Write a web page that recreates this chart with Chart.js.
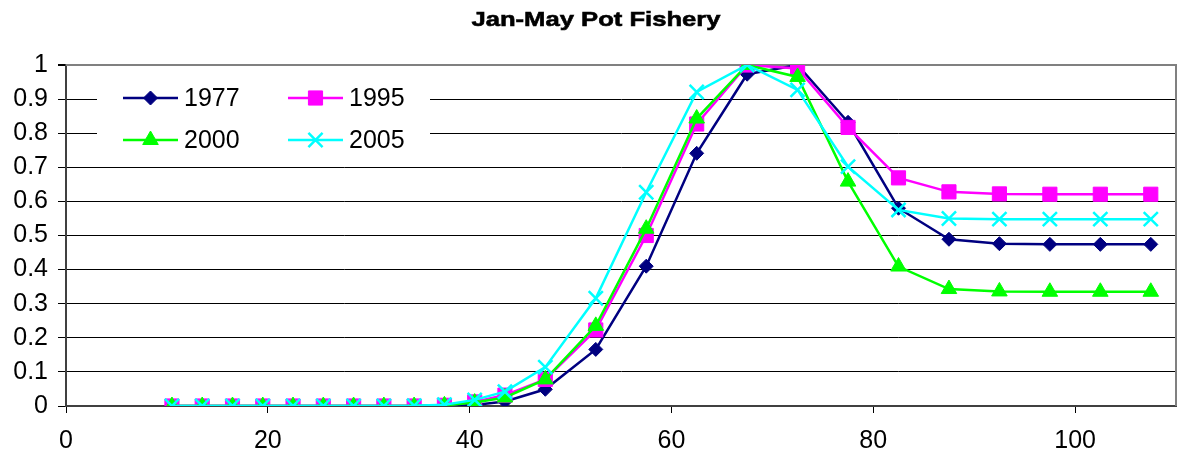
<!DOCTYPE html>
<html>
<head>
<meta charset="utf-8">
<title>Jan-May Pot Fishery</title>
<script src="https://cdn.jsdelivr.net/npm/chart.js"></script>
<style>
  html, body { margin: 0; padding: 0; background: #ffffff; overflow: hidden; }
  #wrap { position: relative; width: 1180px; height: 458px; }
  #chart { display: block; }
</style>
</head>
<body>
<div id="wrap"><canvas id="chart"></canvas></div>
<script>
// Selectivity at length, Jan-May pot fishery
const chartTitle = 'Jan-May Pot Fishery';
const lengths = [10.5, 13.5, 16.5, 19.5, 22.5, 25.5, 28.5, 31.5, 34.5, 37.5, 40.5, 43.5,
                 47.5, 52.5, 57.5, 62.5, 67.5, 72.5, 77.5, 82.5, 87.5, 92.5, 97.5, 102.5, 107.5];
const seriesNames = ['1977', '1995', '2000', '2005'];
const sel1977 = [0, 0, 0, 0, 0, 0, 0, 0, 0, 0.001, 0.003, 0.013,
                 0.049, 0.166, 0.41, 0.741, 0.973, 1.0, 0.832, 0.58, 0.489, 0.476, 0.474, 0.474, 0.474];
const sel1995 = [0, 0, 0, 0, 0, 0, 0, 0, 0, 0.002, 0.012, 0.032,
                 0.078, 0.223, 0.5, 0.827, 1.0, 0.99, 0.817, 0.669, 0.628, 0.622, 0.621, 0.621, 0.621];
const sel2000 = [0, 0, 0, 0, 0, 0, 0, 0, 0, 0.002, 0.01, 0.025,
                 0.078, 0.235, 0.52, 0.843, 1.0, 0.965, 0.658, 0.409, 0.343, 0.336, 0.335, 0.335, 0.335];
const sel2005 = [0, 0, 0, 0, 0, 0, 0, 0, 0.001, 0.004, 0.018, 0.042,
                 0.114, 0.316, 0.627, 0.921, 1.0, 0.927, 0.702, 0.575, 0.55, 0.548, 0.548, 0.548, 0.548];
const xTickValues = [0, 20, 40, 60, 80, 100];
const yTickValues = [0, 0.1, 0.2, 0.3, 0.4, 0.5, 0.6, 0.7, 0.8, 0.9, 1];

const FONT = '"Liberation Sans", Arial, Helvetica, sans-serif';

const styles = [
  { color: '#000080', pointStyle: 'rectRot',  radius: 7 },
  { color: '#FF00FF', pointStyle: 'rect',     radius: 10 },
  { color: '#00FF00', pointStyle: 'triangle', radius: 9 },
  { color: '#00FFFF', pointStyle: 'crossRot', radius: 10 }
];
const seriesValues = [sel1977, sel1995, sel2000, sel2005];

const datasets = seriesNames.map((name, i) => ({
  label: name,
  data: lengths.map((x, j) => ({ x: x, y: seriesValues[i][j] })),
  borderColor: styles[i].color,
  backgroundColor: styles[i].color,
  borderWidth: 2.5,
  pointStyle: styles[i].pointStyle,
  pointRadius: styles[i].radius,
  pointHoverRadius: styles[i].radius,
  pointBackgroundColor: styles[i].color,
  pointBorderColor: styles[i].color,
  pointBorderWidth: styles[i].pointStyle === 'crossRot' ? 2.5 : 1,
  tension: 0,
  fill: false,
  // later series are painted on top
  order: seriesNames.length - 1 - i
}));

// Plot-area frame, drawn behind the grid
const frame = {
  id: 'frame',
  beforeDatasetsDraw(chart) {
    const { ctx, chartArea: a } = chart;
    ctx.save();
    ctx.strokeStyle = '#808080';
    ctx.lineWidth = 2;
    ctx.beginPath();
    ctx.moveTo(a.left, a.top);
    ctx.lineTo(a.right, a.top);
    ctx.lineTo(a.right, a.bottom);
    ctx.stroke();
    ctx.restore();
  }
};

// Wide bold title above the plot
const wideTitle = {
  id: 'wideTitle',
  afterDraw(chart) {
    const ctx = chart.ctx;
    ctx.save();
    ctx.font = 'bold 21px ' + FONT;
    ctx.fillStyle = '#000000';
    ctx.strokeStyle = '#000000';
    ctx.lineWidth = 0.6;
    ctx.textAlign = 'center';
    ctx.textBaseline = 'middle';
    ctx.translate(596, 20);
    ctx.scale(1.22, 1);
    ctx.fillText(chartTitle, 0, 0);
    ctx.strokeText(chartTitle, 0, 0);
    ctx.restore();
  }
};

function drawMarker(ctx, style, radius, x, y, lineW) {
  if (Chart.helpers && Chart.helpers.drawPoint) {
    Chart.helpers.drawPoint(ctx, { pointStyle: style, radius: radius, borderWidth: lineW, rotation: 0 }, x, y);
    return;
  }
  ctx.beginPath();
  if (style === 'rectRot') {
    ctx.moveTo(x, y - radius); ctx.lineTo(x + radius, y); ctx.lineTo(x, y + radius); ctx.lineTo(x - radius, y); ctx.closePath();
    ctx.fill(); ctx.stroke();
  } else if (style === 'rect') {
    const s = radius * Math.SQRT1_2;
    ctx.rect(x - s, y - s, 2 * s, 2 * s); ctx.fill(); ctx.stroke();
  } else if (style === 'triangle') {
    ctx.moveTo(x, y - radius);
    ctx.lineTo(x + radius * Math.cos(Math.PI / 6), y + radius / 2);
    ctx.lineTo(x - radius * Math.cos(Math.PI / 6), y + radius / 2);
    ctx.closePath(); ctx.fill(); ctx.stroke();
  } else {
    const s = radius * Math.SQRT1_2;
    ctx.moveTo(x - s, y - s); ctx.lineTo(x + s, y + s);
    ctx.moveTo(x + s, y - s); ctx.lineTo(x - s, y + s);
    ctx.stroke();
  }
}

// Two-column legend inside the plot, on a white panel
const insetLegend = {
  id: 'insetLegend',
  afterDatasetsDraw(chart) {
    const ctx = chart.ctx;
    const box = { x: 97, y: 76, w: 333, h: 82 };
    const cols = [123, 288];
    const rows = [98, 140];
    ctx.save();
    ctx.fillStyle = '#ffffff';
    ctx.fillRect(box.x, box.y, box.w, box.h);
    seriesNames.forEach((name, i) => {
      const x0 = cols[i % 2];
      const y0 = rows[Math.floor(i / 2)];
      const st = styles[i];
      ctx.strokeStyle = st.color;
      ctx.fillStyle = st.color;
      ctx.lineWidth = 2.5;
      ctx.beginPath();
      ctx.moveTo(x0, y0);
      ctx.lineTo(x0 + 55, y0);
      ctx.stroke();
      ctx.lineWidth = st.pointStyle === 'crossRot' ? 2.5 : 1;
      drawMarker(ctx, st.pointStyle, st.radius, x0 + 27.5, y0, ctx.lineWidth);
      ctx.fillStyle = '#000000';
      ctx.font = '25px ' + FONT;
      ctx.textAlign = 'left';
      ctx.textBaseline = 'middle';
      ctx.fillText(name, x0 + 61, y0 + 1);
    });
    ctx.restore();
  }
};

new Chart(document.getElementById('chart'), {
  type: 'line',
  data: { datasets: datasets },
  plugins: [frame, insetLegend, wideTitle],
  options: {
    responsive: true,
    maintainAspectRatio: false,
    animation: false,
    devicePixelRatio: 1,
    layout: { autoPadding: false, padding: { top: 65, right: 4, left: 0, bottom: 0 } },
    plugins: {
      legend: { display: false },
      title: { display: false },
      tooltip: { enabled: false }
    },
    scales: {
      x: {
        type: 'linear',
        min: 0,
        max: 110,
        afterFit(scale) {
          scale.height = 52;
          scale.paddingLeft = 0;
          scale.paddingRight = 0;
        },
        afterBuildTicks(scale) { scale.ticks = xTickValues.map(v => ({ value: v })); },
        ticks: {
          color: '#000000',
          font: { family: FONT, size: 25 },
          padding: 13,
          maxRotation: 0,
          callback: (v) => String(v)
        },
        grid: {
          drawOnChartArea: false,
          drawTicks: true,
          tickLength: 7,
          tickColor: '#000000',
          tickWidth: 1
        },
        border: { color: '#404040', width: 2 }
      },
      y: {
        type: 'linear',
        min: 0,
        max: 1,
        afterFit(scale) {
          scale.width = 66;
          scale.paddingTop = 0;
          scale.paddingBottom = 0;
        },
        afterBuildTicks(scale) { scale.ticks = yTickValues.map(v => ({ value: v })); },
        ticks: {
          color: '#000000',
          font: { family: FONT, size: 25 },
          padding: 10,
          callback: (v) => String(Math.round(v * 10) / 10)
        },
        grid: {
          color: (c) => (c.tick && c.tick.value === 1 ? '#808080' : '#000000'),
          lineWidth: (c) => (c.tick && c.tick.value === 1 ? 2 : 1),
          tickColor: '#000000',
          tickLength: 8,
          drawTicks: true
        },
        border: { color: '#404040', width: 2 }
      }
    }
  }
});
</script>
</body>
</html>
